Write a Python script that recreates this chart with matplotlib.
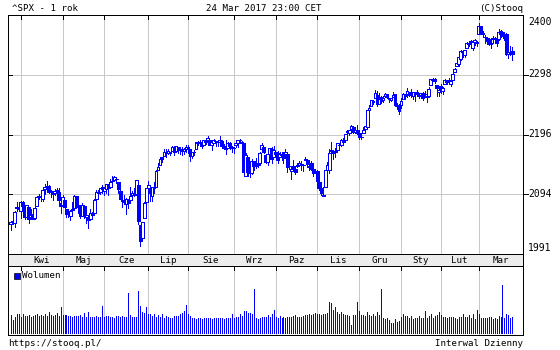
import numpy as np
import matplotlib
matplotlib.use("Agg")
import matplotlib.pyplot as plt
from matplotlib.patches import Rectangle
from matplotlib.lines import Line2D

# ---- data (S&P 500 daily, 24 Mar 2016 - 24 Mar 2017) ----
days_per_month = [5, 21, 21, 22, 20, 23, 21, 21, 21, 21, 20, 19, 18]
month_labels = ["Kwi", "Maj", "Cze", "Lip", "Sie", "Wrz", "Paz", "Lis", "Gru", "Sty", "Lut", "Mar"]
y_tick_labels = ["1991", "2094", "2196", "2298", "2400"]

opens = [
    2032, 2038, 2035, 2061, 2064,
    2056, 2073, 2063, 2045, 2063, 2045, 2050, 2043, 2065, 2082, 2083, 2078, 2096, 2101, 2102, 2091, 2089, 2090, 2092, 2091, 2071,
    2068, 2077, 2060, 2053, 2047, 2058, 2062, 2083, 2067, 2062, 2047, 2065, 2045, 2044, 2042, 2053, 2053, 2079, 2091, 2091, 2100,
    2093, 2097, 2104, 2100, 2111, 2113, 2115, 2110, 2092, 2077, 2077, 2069, 2077, 2076, 2085, 2089, 2087, 2104, 2031, 2007, 2043, 2073,
    2099, 2096, 2084, 2100, 2101, 2131, 2140, 2155, 2157, 2165, 2162, 2163, 2166, 2173, 2166, 2174, 2168, 2170, 2166, 2169,
    2174, 2170, 2157, 2164, 2169, 2183, 2182, 2182, 2177, 2183, 2186, 2186, 2178, 2181, 2184, 2182, 2187, 2185, 2173, 2175, 2171, 2180, 2174,
    2171, 2177, 2181, 2186, 2183, 2181, 2121, 2155, 2127, 2126, 2147, 2143, 2145, 2144, 2170, 2174, 2158, 2146, 2161, 2169, 2156,
    2165, 2163, 2156, 2158, 2164, 2160, 2161, 2138, 2130, 2139, 2133, 2138, 2140, 2142, 2140, 2149, 2150, 2137, 2144, 2133, 2129,
    2129, 2110, 2098, 2084, 2101, 2132, 2132, 2168, 2163, 2166, 2168, 2177, 2177, 2187, 2186, 2202, 2199, 2207, 2210, 2201, 2205,
    2200, 2191, 2200, 2207, 2211, 2241, 2249, 2258, 2263, 2269, 2253, 2266, 2259, 2267, 2270, 2263, 2260, 2266, 2270, 2250, 2251,
    2251, 2262, 2268, 2271, 2274, 2269, 2268, 2272, 2272, 2270, 2269, 2272, 2270, 2268, 2267, 2288, 2299, 2299, 2287, 2275,
    2286, 2277, 2289, 2295, 2296, 2290, 2297, 2312, 2322, 2326, 2335, 2350, 2343, 2355, 2362, 2368, 2355, 2366, 2367,
    2380, 2395, 2381, 2375, 2373, 2371, 2363, 2372, 2371, 2369, 2371, 2387, 2384, 2378, 2380, 2344, 2346, 2350,
]
highs = [
    2036, 2042, 2056, 2072, 2067,
    2075, 2074, 2063, 2068, 2063, 2060, 2062, 2066, 2083, 2088, 2083, 2094, 2105, 2111, 2103, 2094, 2089, 2096, 2099, 2099, 2074,
    2085, 2077, 2060, 2060, 2058, 2072, 2085, 2084, 2074, 2066, 2071, 2067, 2061, 2044, 2059, 2055, 2079, 2094, 2094, 2099, 2104,
    2100, 2105, 2104, 2114, 2120, 2121, 2117, 2110, 2096, 2082, 2085, 2080, 2078, 2100, 2093, 2099, 2113, 2104, 2031, 2036, 2072, 2099,
    2111, 2096, 2100, 2110, 2132, 2144, 2156, 2156, 2169, 2170, 2169, 2164, 2175, 2175, 2175, 2174, 2174, 2174, 2172, 2178,
    2178, 2170, 2164, 2168, 2183, 2185, 2187, 2183, 2186, 2186, 2194, 2186, 2183, 2188, 2185, 2185, 2194, 2186, 2179, 2187, 2183, 2183, 2175,
    2174, 2184, 2187, 2188, 2184, 2181, 2163, 2155, 2141, 2152, 2147, 2153, 2150, 2165, 2180, 2174, 2158, 2161, 2172, 2173, 2175,
    2165, 2166, 2164, 2162, 2165, 2169, 2162, 2146, 2138, 2149, 2135, 2145, 2148, 2148, 2142, 2155, 2151, 2146, 2147, 2142, 2133,
    2132, 2112, 2102, 2100, 2132, 2146, 2170, 2182, 2165, 2172, 2180, 2179, 2188, 2190, 2198, 2205, 2205, 2214, 2211, 2210, 2214,
    2202, 2198, 2210, 2212, 2242, 2251, 2260, 2259, 2278, 2277, 2272, 2268, 2267, 2272, 2271, 2264, 2264, 2274, 2271, 2254, 2253,
    2264, 2273, 2271, 2282, 2275, 2280, 2275, 2272, 2279, 2272, 2272, 2274, 2277, 2272, 2284, 2299, 2301, 2300, 2287, 2280,
    2290, 2283, 2299, 2296, 2300, 2296, 2312, 2319, 2331, 2338, 2351, 2352, 2351, 2367, 2365, 2369, 2367, 2371, 2368,
    2401, 2395, 2386, 2379, 2375, 2374, 2369, 2377, 2375, 2371, 2390, 2388, 2385, 2379, 2382, 2351, 2358, 2357,
]
lows = [
    2022, 2032, 2027, 2057, 2057,
    2043, 2062, 2042, 2043, 2034, 2041, 2041, 2042, 2065, 2079, 2074, 2074, 2088, 2094, 2089, 2081, 2077, 2085, 2083, 2071, 2053,
    2063, 2054, 2046, 2045, 2040, 2055, 2062, 2064, 2053, 2044, 2047, 2043, 2035, 2025, 2042, 2047, 2053, 2079, 2085, 2087, 2089,
    2086, 2089, 2086, 2099, 2110, 2111, 2107, 2090, 2078, 2064, 2069, 2050, 2062, 2076, 2082, 2084, 2087, 2033, 1992, 2007, 2043, 2070,
    2099, 2075, 2074, 2089, 2101, 2131, 2140, 2146, 2157, 2155, 2160, 2159, 2166, 2159, 2164, 2162, 2161, 2159, 2160, 2165,
    2163, 2148, 2153, 2159, 2169, 2177, 2179, 2172, 2177, 2179, 2186, 2178, 2168, 2181, 2175, 2175, 2186, 2172, 2169, 2160, 2171, 2170, 2165,
    2162, 2174, 2174, 2180, 2177, 2128, 2120, 2120, 2119, 2124, 2132, 2135, 2136, 2140, 2170, 2162, 2145, 2141, 2152, 2145, 2156,
    2154, 2144, 2155, 2150, 2145, 2160, 2128, 2133, 2115, 2132, 2124, 2136, 2139, 2132, 2130, 2149, 2137, 2131, 2132, 2120, 2125,
    2098, 2094, 2085, 2084, 2101, 2123, 2125, 2151, 2152, 2156, 2166, 2172, 2175, 2180, 2186, 2196, 2195, 2207, 2200, 2199, 2197,
    2188, 2189, 2199, 2202, 2209, 2237, 2249, 2252, 2263, 2249, 2253, 2254, 2257, 2266, 2263, 2256, 2258, 2266, 2249, 2244, 2234,
    2245, 2262, 2261, 2265, 2268, 2266, 2261, 2258, 2271, 2263, 2264, 2259, 2265, 2257, 2266, 2288, 2294, 2291, 2268, 2268,
    2273, 2271, 2289, 2289, 2290, 2285, 2297, 2312, 2322, 2322, 2334, 2339, 2339, 2355, 2358, 2355, 2352, 2361, 2358,
    2380, 2381, 2377, 2365, 2365, 2361, 2355, 2364, 2369, 2358, 2369, 2375, 2377, 2369, 2343, 2337, 2342, 2334,
]
closes = [
    2036, 2037, 2055, 2064, 2060,
    2073, 2066, 2045, 2067, 2042, 2048, 2042, 2062, 2082, 2083, 2081, 2094, 2101, 2102, 2091, 2092, 2088, 2092, 2095, 2076, 2065,
    2081, 2063, 2051, 2051, 2057, 2059, 2084, 2064, 2064, 2047, 2067, 2047, 2048, 2040, 2052, 2048, 2076, 2091, 2090, 2099, 2097,
    2099, 2105, 2099, 2109, 2112, 2119, 2115, 2096, 2079, 2075, 2072, 2078, 2071, 2083, 2089, 2085, 2113, 2037, 2001, 2036, 2071, 2099,
    2103, 2089, 2100, 2098, 2130, 2137, 2152, 2152, 2164, 2162, 2167, 2164, 2173, 2165, 2175, 2168, 2169, 2167, 2170, 2174,
    2171, 2157, 2164, 2164, 2183, 2181, 2182, 2175, 2186, 2184, 2190, 2178, 2182, 2187, 2184, 2183, 2187, 2175, 2172, 2169, 2180, 2176, 2171,
    2171, 2180, 2186, 2186, 2181, 2128, 2159, 2127, 2126, 2147, 2139, 2139, 2140, 2163, 2177, 2165, 2146, 2160, 2171, 2151, 2168,
    2161, 2150, 2160, 2161, 2154, 2164, 2137, 2139, 2133, 2133, 2127, 2140, 2144, 2141, 2141, 2151, 2143, 2139, 2133, 2126, 2126,
    2112, 2098, 2089, 2085, 2132, 2140, 2163, 2167, 2164, 2164, 2180, 2177, 2187, 2182, 2198, 2203, 2205, 2213, 2202, 2205, 2199,
    2191, 2192, 2205, 2212, 2241, 2246, 2260, 2257, 2272, 2253, 2262, 2258, 2263, 2271, 2265, 2261, 2264, 2269, 2250, 2249, 2239,
    2258, 2271, 2269, 2277, 2269, 2269, 2275, 2270, 2275, 2268, 2272, 2264, 2271, 2265, 2280, 2298, 2297, 2295, 2281, 2279,
    2280, 2281, 2297, 2293, 2293, 2295, 2308, 2316, 2328, 2338, 2349, 2347, 2351, 2365, 2363, 2364, 2367, 2370, 2364,
    2396, 2382, 2383, 2375, 2368, 2363, 2365, 2373, 2373, 2365, 2385, 2381, 2378, 2373, 2344, 2348, 2346, 2344,
]
volumes = [
    3600, 2700, 3200, 3800, 3900,
    3300, 3800, 3400, 3500, 3600, 3300, 3500, 3600, 3800, 3400, 3700, 3400, 3900, 3400, 4200, 3600, 3400, 3700, 4000, 3500, 5300,
    3600, 3700, 3600, 3500, 3400, 3300, 3500, 3500, 3400, 3600, 3300, 4100, 3300, 4200, 3300, 3200, 3300, 3500, 3200, 3300, 5500,
    3300, 3500, 3400, 3300, 3200, 3100, 3400, 3400, 3300, 3400, 3200, 3300, 8100, 3600, 3200, 3200, 3200, 8500, 5400, 4200, 4100, 5300,
    3900, 3800, 3400, 3800, 3200, 3600, 3200, 3800, 3100, 3400, 3200, 3100, 3100, 3400, 3400, 3500, 3900, 4000, 4400, 5600,
    3900, 3500, 3100, 3100, 2900, 3100, 3100, 2900, 3100, 3000, 3100, 3100, 2900, 3100, 3100, 3000, 3100, 3000, 2900, 3100, 3000, 3100, 3900,
    3100, 3300, 3200, 3800, 3500, 4400, 4400, 4100, 4000, 3800, 8900, 3100, 2900, 3100, 3300, 3300, 3300, 3700, 3300, 3900, 4600,
    3300, 3100, 3400, 3000, 3300, 3000, 3200, 3200, 3300, 3400, 3600, 3200, 3200, 3300, 3500, 3600, 3700, 3800, 3600, 3900, 4100,
    3900, 3800, 3700, 3900, 3800, 4000, 6200, 6000, 4600, 5300, 4200, 3800, 4300, 3800, 3600, 3600, 3400, 1600, 3700, 3700, 6300,
    4500, 3600, 3700, 3400, 4200, 3700, 3400, 3800, 3400, 4200, 3700, 8900, 3000, 2800, 3100, 2700, 2000, 2100, 2800, 2200, 2500,
    3200, 3900, 3500, 3500, 3000, 3400, 2900, 3000, 3000, 3500, 3000, 3000, 4400, 3000, 3500, 3800, 3100, 3500, 3700, 4300,
    3700, 3300, 3200, 3000, 3200, 3200, 3200, 3000, 2800, 3200, 3200, 3900, 3200, 3200, 3700, 3000, 3900, 2800, 4700,
    3900, 3000, 3100, 3100, 3100, 3200, 3200, 2900, 3000, 2900, 3400, 3300, 9700, 3000, 3900, 3700, 3100, 3200,
]

# ---- style ----
BLUE = "#0000ff"
GRID = "#c8c8c8"
BAND = "#ececec"
plt.rcParams["font.family"] = ["DejaVu Sans Mono"]
FS = 6.6
LW = 0.72

W, H = 560, 350
fig = plt.figure(figsize=(W / 100, H / 100), dpi=100)
fig.patch.set_facecolor("white")


def px_axes(x0, y0, x1, y1):
    return fig.add_axes([x0 / W, 1 - y1 / H, (x1 - x0) / W, (y1 - y0) / H])


ax = px_axes(8, 15, 523, 254)
band = px_axes(8, 254, 523, 266)
axv = px_axes(8, 266, 523, 335)

n = len(closes)
xs = np.arange(n)
month_starts = np.cumsum(days_per_month)[:-1]
xl = (-1.38, n + 4.3)

for a in (ax, band, axv):
    a.set_xlim(*xl)
    a.set_xticks([])
    a.set_yticks([])
    for s in a.spines.values():
        s.set_color("black")
        s.set_linewidth(LW)

# ---- price panel ----
lo, hi = min(lows), max(highs)
pad = (hi - lo) * 8 / 223
ax.set_ylim(lo - pad, hi + pad)
span = hi - lo + 2 * pad
grid_y = [lo - pad + span * k / 4 for k in (1, 2, 3)]
for gy in grid_y:
    ax.axhline(gy, color=GRID, lw=LW, zorder=1, antialiased=False)
for ms in month_starts:
    ax.axvline(ms, color=GRID, lw=LW, zorder=1, antialiased=False)
    axv.axvline(ms, color=GRID, lw=LW, zorder=1, antialiased=False)

for i in range(n):
    o, h, l, c = opens[i], highs[i], lows[i], closes[i]
    ax.add_line(Line2D([i, i], [l, h], color=BLUE, lw=LW, antialiased=False, zorder=3))
    b0, b1 = min(o, c), max(o, c)
    up = c >= o
    ax.add_patch(Rectangle((i - 0.7, b0), 1.4, b1 - b0,
                           facecolor="white" if up else BLUE, edgecolor=BLUE,
                           lw=LW, antialiased=False, zorder=3))

# tick marks
xt = ax.get_xaxis_transform()
yt = ax.get_yaxis_transform()
for ms in month_starts:
    ax.add_line(Line2D([ms, ms], [1, 1 - 4 / 239], color="black", lw=LW, transform=xt,
                       antialiased=False, zorder=5))
    axv.add_line(Line2D([ms, ms], [1, 1 - 4 / 69], color="black", lw=LW,
                        transform=axv.get_xaxis_transform(), antialiased=False, zorder=5))
for gy in grid_y:
    ax.add_line(Line2D([0, 4 / 515], [gy, gy], color="black", lw=LW, transform=yt,
                       antialiased=False, zorder=5))
    ax.add_line(Line2D([1, 1 + 5 / 515], [gy, gy], color="black", lw=LW, transform=yt,
                       antialiased=False, zorder=5, clip_on=False))

# y labels (stooq places the extreme labels inside the frame)
label_px = [248, 194, 134, 74, 22]
for lab, py in zip(y_tick_labels, label_px):
    fig.text(528 / W, 1 - py / H, lab, ha="left", va="center", fontsize=7.0)

# ---- month band ----
band.set_facecolor(BAND)
band.set_ylim(0, 1)
bounds = list(month_starts) + [xl[1]]
for k, lab in enumerate(month_labels):
    cx = (bounds[k] + bounds[k + 1]) / 2
    band.text(cx, 0.42, lab, ha="center", va="center", fontsize=FS)

# ---- volume panel ----
vmax = max(volumes)
axv.set_ylim(-vmax * 2 / 48, vmax * 67 / 48)
axv.vlines(xs, 0, volumes, colors=BLUE, lw=LW, antialiased=False, zorder=3)
fig.patches.append(Rectangle((14 / W, 1 - 279 / H), 6 / W, 6 / H, transform=fig.transFigure,
                             facecolor=BLUE, edgecolor="black", lw=0.5))
fig.text(22 / W, 1 - 276 / H, "Wolumen", ha="left", va="center", fontsize=FS)

# ---- header / footer ----
fig.text(12 / W, 1 - 11 / H, "^SPX - 1 rok", ha="left", va="baseline", fontsize=FS)
fig.text(264 / W, 1 - 11 / H, "24 Mar 2017 23:00 CET", ha="center", va="baseline", fontsize=FS)
fig.text(523 / W, 1 - 11 / H, "(C)Stooq", ha="right", va="baseline", fontsize=FS)
fig.text(8 / W, 1 - 346 / H, "https://stooq.pl/", ha="left", va="baseline", fontsize=FS)
fig.text(523 / W, 1 - 346 / H, "Interwal Dzienny", ha="right", va="baseline", fontsize=FS)

fig.savefig("out.png", dpi=100)
